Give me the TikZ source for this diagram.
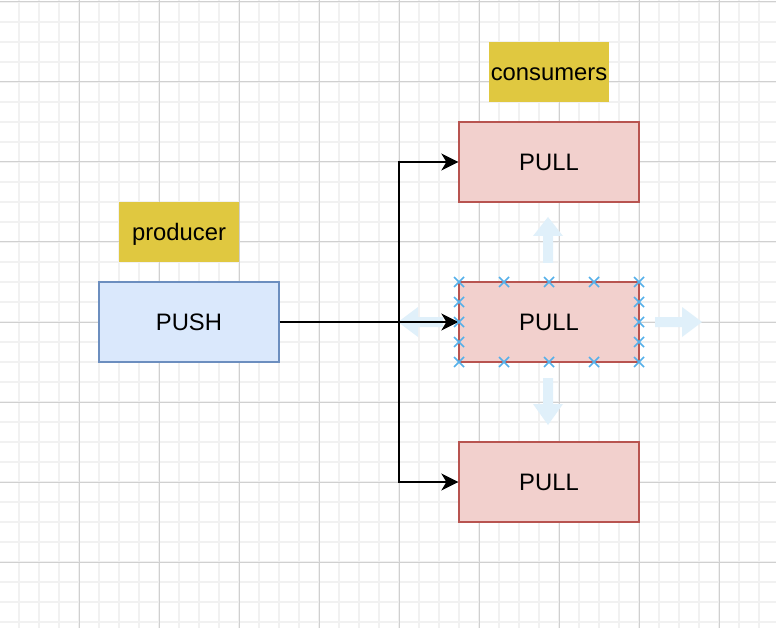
\documentclass[tikz,border=0pt]{standalone}
\usepackage{fontspec}
\setmainfont{Liberation Sans}
\usetikzlibrary{arrows.meta}
\definecolor{gridminor}{HTML}{F1F1F1}
\definecolor{gridmajor}{HTML}{D0D0D0}
\definecolor{bluefill}{HTML}{DAE8FC}
\definecolor{bluedraw}{HTML}{6C8EBF}
\definecolor{redfill}{HTML}{F2D0CD}
\definecolor{reddraw}{HTML}{B85450}
\definecolor{labelfill}{HTML}{E0C840}
\definecolor{hoverblue}{HTML}{E0F0FA}
\definecolor{handleblue}{HTML}{55B0EA}
\begin{document}
\begin{tikzpicture}[x=1pt,y=-1pt,
  txt/.style={font=\fontsize{23.8}{28}\selectfont, inner sep=0pt, text height=17pt, text depth=0pt},
  box/.style={txt, draw, line width=1.3pt, minimum width=180pt, minimum height=80pt},
  pushbox/.style={box, fill=bluefill, draw=bluedraw},
  pullbox/.style={box, fill=redfill, draw=reddraw},
  tag/.style={txt, fill=labelfill, minimum width=120pt, minimum height=60pt},
  conn/.style={line width=2pt, -{Stealth[length=17pt,width=17pt,inset=5pt]}},
  hover/.style={fill=hoverblue},
  handle/.style={draw=handleblue, line width=1.6pt}]
\useasboundingbox (0,0) rectangle (776,628);
\fill[white] (0,0) rectangle (776,628);
% grid
\foreach \x in {19,39,...,775} \draw[gridminor, line width=1.5pt] (\x,0) -- (\x,628);
\foreach \y in {2,22,...,627} \draw[gridminor, line width=1.5pt] (0,\y) -- (776,\y);
\foreach \x in {79,159,...,775} \draw[gridmajor, line width=1pt] (\x,0) -- (\x,628);
\foreach \y in {2,82,...,627} \draw[gridmajor, line width=1pt] (0,\y) -- (776,\y);
% labels
\node[tag] (producer) at (179,232) {producer};
\node[tag] (consumers) at (549,72) {consumers};
% boxes
\node[pushbox] (push) at (189,322) {PUSH};
\node[pullbox] (pullt) at (549,162) {PULL};
\node[pullbox] (pullm) at (549,322) {PULL};
\node[pullbox] (pullb) at (549,482) {PULL};
% hover arrows
\fill[hover] (548,217) -- (563,236) -- (553,236) -- (553,263) -- (543,263) -- (543,236) -- (533,236) -- cycle;
\fill[hover] (548,425) -- (563,404) -- (553,404) -- (553,378) -- (543,378) -- (543,404) -- (533,404) -- cycle;
\fill[hover] (702,322) -- (682,307) -- (682,317) -- (655,317) -- (655,327) -- (682,327) -- (682,337) -- cycle;
\fill[hover] (398,322) -- (418,307) -- (418,317) -- (443,317) -- (443,327) -- (418,327) -- (418,337) -- cycle;
% connectors
\coordinate (j) at (399,322);
\draw[conn] (push.east) -- (pullm.west);
\draw[conn] (j) |- (pullt.west);
\draw[conn] (j) |- (pullb.west);
% selection handles
\foreach \x/\y in {459/282,504/282,549/282,594/282,639/282,
                   459/362,504/362,549/362,594/362,639/362,
                   459/302,459/322,459/342,639/302,639/322,639/342}
  \draw[handle] (\x-5,\y-5) -- (\x+5,\y+5) (\x-5,\y+5) -- (\x+5,\y-5);
\end{tikzpicture}
\end{document}
